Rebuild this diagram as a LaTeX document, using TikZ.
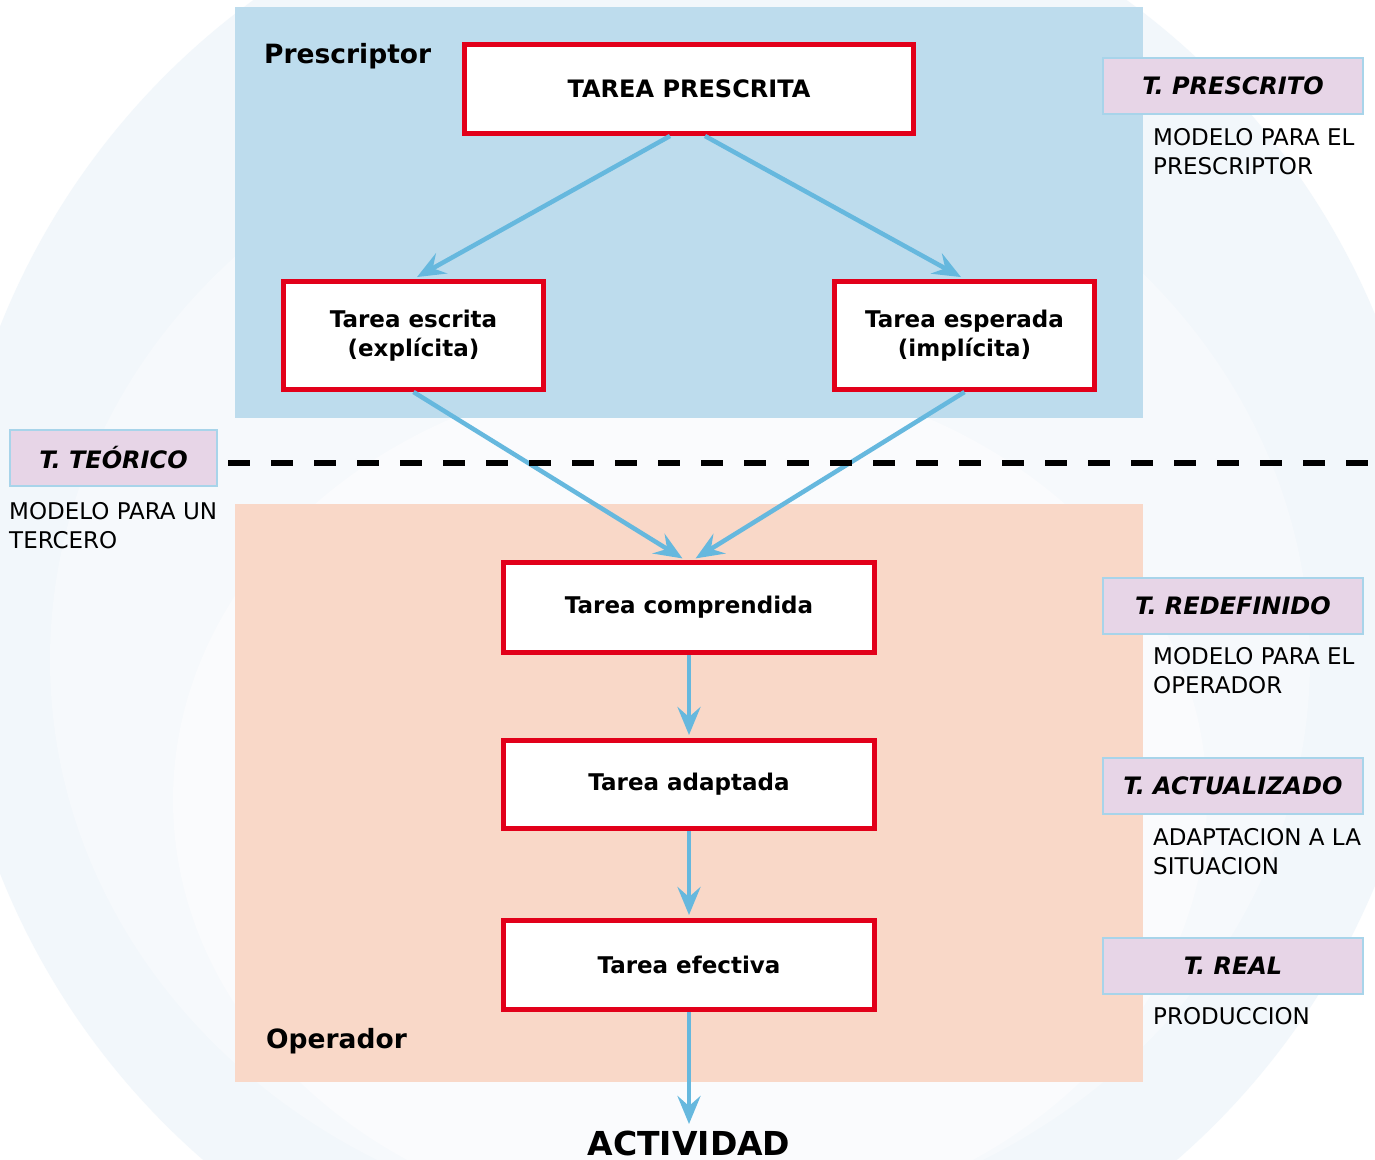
\documentclass[tikz,border=0pt]{standalone}
\usepackage{fontspec}
\setmainfont{DejaVu Sans}
\usetikzlibrary{arrows.meta,calc}

\definecolor{prescbg}{HTML}{BDDCED}
\definecolor{operbg}{HTML}{F9D8C8}
\definecolor{tagfill}{HTML}{E7D5E7}
\definecolor{tagline}{HTML}{A8D4EA}
\definecolor{boxred}{HTML}{E2001A}
\definecolor{flow}{HTML}{66B8DE}
\definecolor{ringA}{HTML}{F2F7FB}
\definecolor{ringB}{HTML}{F6F9FC}
\definecolor{ringC}{HTML}{FAFBFD}

\tikzset{
  taskbox/.style={draw=boxred, line width=5pt, fill=white, align=center,
    font=\fontsize{23}{29}\selectfont\bfseries, inner sep=0pt},
  tagbox/.style={draw=tagline, line width=2pt, fill=tagfill,
    minimum width=260pt, minimum height=56pt, inner sep=0pt,
    font=\fontsize{24}{28}\selectfont\bfseries\itshape},
  desc/.style={anchor=north west, align=left, inner sep=0pt,
    font=\fontsize{23}{29}\selectfont},
  zone/.style={font=\fontsize{26.5}{30}\selectfont\bfseries, inner sep=0pt, anchor=base west},
  flowarrow/.style={draw=flow, line width=4.5pt,
    -{Stealth[length=28pt,width=23pt,inset=10pt]}},
}

\begin{document}
\begin{tikzpicture}[x=1pt,y=-1pt]
\useasboundingbox (0,0) rectangle (1375,1159);

% soft background rings
\begin{scope}
  \clip (0,0) rectangle (1375,1159);
  \fill[white] (0,0) rectangle (1375,1159);
  \fill[ringA] (690,600) circle [radius=742];
  \fill[ringB] (680,660) ellipse [x radius=630, y radius=570];
  \fill[ringC] (690,800) ellipse [x radius=517, y radius=430];
\end{scope}

% the two zones
\fill[prescbg] (235,7) rectangle (1143,418);
\fill[operbg] (235,504) rectangle (1143,1082);
\node[zone] (presc) at (264,63) {Prescriptor};
\node[zone] (oper) at (266,1048) {Operador};

% task boxes
\node[taskbox, minimum width=449pt, minimum height=89pt,
  font=\fontsize{24}{29}\selectfont\bfseries] (tp) at (689,89) {TAREA PRESCRITA};
\node[taskbox, minimum width=260pt, minimum height=108pt] (te) at (413.5,335.5)
  {Tarea escrita\\(explícita)};
\node[taskbox, minimum width=260pt, minimum height=108pt] (tes) at (964.5,335.5)
  {Tarea esperada\\(implícita)};
\node[taskbox, minimum width=371pt, minimum height=90pt] (tc) at (689,607.5) {Tarea comprendida};
\node[taskbox, minimum width=371pt, minimum height=88pt] (ta) at (689,784.5) {Tarea adaptada};
\node[taskbox, minimum width=371pt, minimum height=89pt] (tf) at (689,965) {Tarea efectiva};
\node[anchor=north, inner sep=0pt, font=\fontsize{33}{36}\selectfont\bfseries]
  (act) at (689,1131) {ACTIVIDAD};

% flow arrows
\draw[flowarrow, shorten >=4pt] ($(tp.south)+(-19,0)$) -- (te.north);
\draw[flowarrow, shorten >=4pt] ($(tp.south)+(16,0)$) -- (tes.north);
\draw[flowarrow, shorten >=3pt] (te.south) -- ($(tc.north)+(-4,0)$);
\draw[flowarrow, shorten >=3pt] (tes.south) -- ($(tc.north)+(4,0)$);
\draw[flowarrow, shorten >=3pt] (tc.south) -- (ta.north);
\draw[flowarrow, shorten >=3pt] (ta.south) -- (tf.north);
\draw[flowarrow, shorten >=7pt] (tf.south) -- (act.north);

% level tags
\node[tagbox] (tpres) at (1233,86) {T. PRESCRITO};
\node[tagbox, minimum width=207pt] (tteo) at (113.5,458) {T. TEÓRICO};
\node[tagbox] (tred) at (1233,606) {T. REDEFINIDO};
\node[tagbox] (tact) at (1233,786) {T. ACTUALIZADO};
\node[tagbox] (treal) at (1233,966) {T. REAL};

\node[desc] (dpres) at (1153,128) {MODELO PARA EL\\PRESCRIPTOR};
\node[desc] (dteo) at (9,502) {MODELO PARA UN\\TERCERO};
\node[desc] (dred) at (1153,647) {MODELO PARA EL\\OPERADOR};
\node[desc] (dact) at (1153,828) {ADAPTACION A LA\\SITUACION};
\node[desc] (dreal) at (1153,1007) {PRODUCCION};

% dividing line
\coordinate (cutA) at (228,463);
\coordinate (cutB) at (1375,463);
\draw[line width=6pt, dash pattern=on 22pt off 21pt] (cutA) -- (cutB);
\end{tikzpicture}
\end{document}
